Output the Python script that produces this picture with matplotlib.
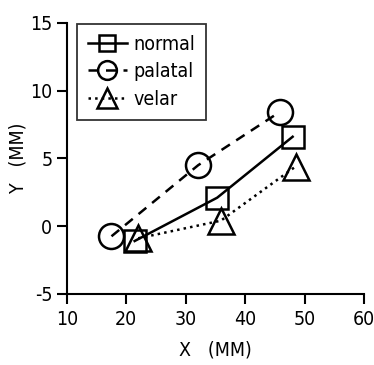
import matplotlib
matplotlib.use("Agg")
import matplotlib.pyplot as plt
from matplotlib import font_manager

names = {f.name for f in font_manager.fontManager.ttflist}
fam = 'Liberation Sans Narrow' if 'Liberation Sans Narrow' in names else 'DejaVu Sans'
plt.rcParams['font.family'] = [fam]
plt.rcParams['font.stretch'] = 'condensed'
plt.rcParams['axes.unicode_minus'] = False

normal_x = [21.4, 35.3, 48.0]
normal_y = [-1.1, 2.1, 6.6]
palatal_x = [17.5, 32.1, 45.9]
palatal_y = [-0.75, 4.5, 8.45]
velar_x = [22.0, 35.9, 48.5]
velar_y = [-0.9, 0.4, 4.4]

xticks = [10, 20, 30, 40, 50, 60]
yticks = [-5, 0, 5, 10, 15]

fig = plt.figure(figsize=(3.74, 3.65), dpi=100)
ax = fig.add_axes([0.179, 0.195, 0.794, 0.742])

ax.plot(normal_x, normal_y, '-', color='black', lw=1.8, marker='s', ms=16,
        mfc='none', mec='black', mew=1.8, label='normal')
ax.plot(palatal_x, palatal_y, '--', color='black', lw=1.8, dashes=(4, 3), marker='o', ms=18,
        mfc='none', mec='black', mew=1.8, label='palatal')
ax.plot(velar_x, velar_y, ':', color='black', lw=1.8, marker='^', ms=19,
        mfc='none', mec='black', mew=1.8, label='velar')

ax.set_xlim(10, 60)
ax.set_ylim(-5, 15)
ax.set_xticks(xticks)
ax.set_yticks(yticks)
ax.spines['top'].set_visible(False)
ax.spines['right'].set_visible(False)
for s in ['left', 'bottom']:
    ax.spines[s].set_linewidth(1.5)
ax.tick_params(direction='out', length=7, width=1.5, labelsize=14)
ax.tick_params(axis='x', pad=5)
ax.set_xlabel('X   (MM)', fontsize=14, labelpad=8)
ax.set_ylabel('Y   (MM)', fontsize=14, labelpad=2)

leg = ax.legend(loc='upper left', bbox_to_anchor=(0.034, 0.997), borderaxespad=0,
                frameon=True, fancybox=False,
                edgecolor='black', fontsize=14, handlelength=2.0, markerscale=0.75,
                borderpad=0.55, labelspacing=0.45, handletextpad=0.35)
leg.get_frame().set_linewidth(1.3)

fig.savefig('out.png', dpi=100)
